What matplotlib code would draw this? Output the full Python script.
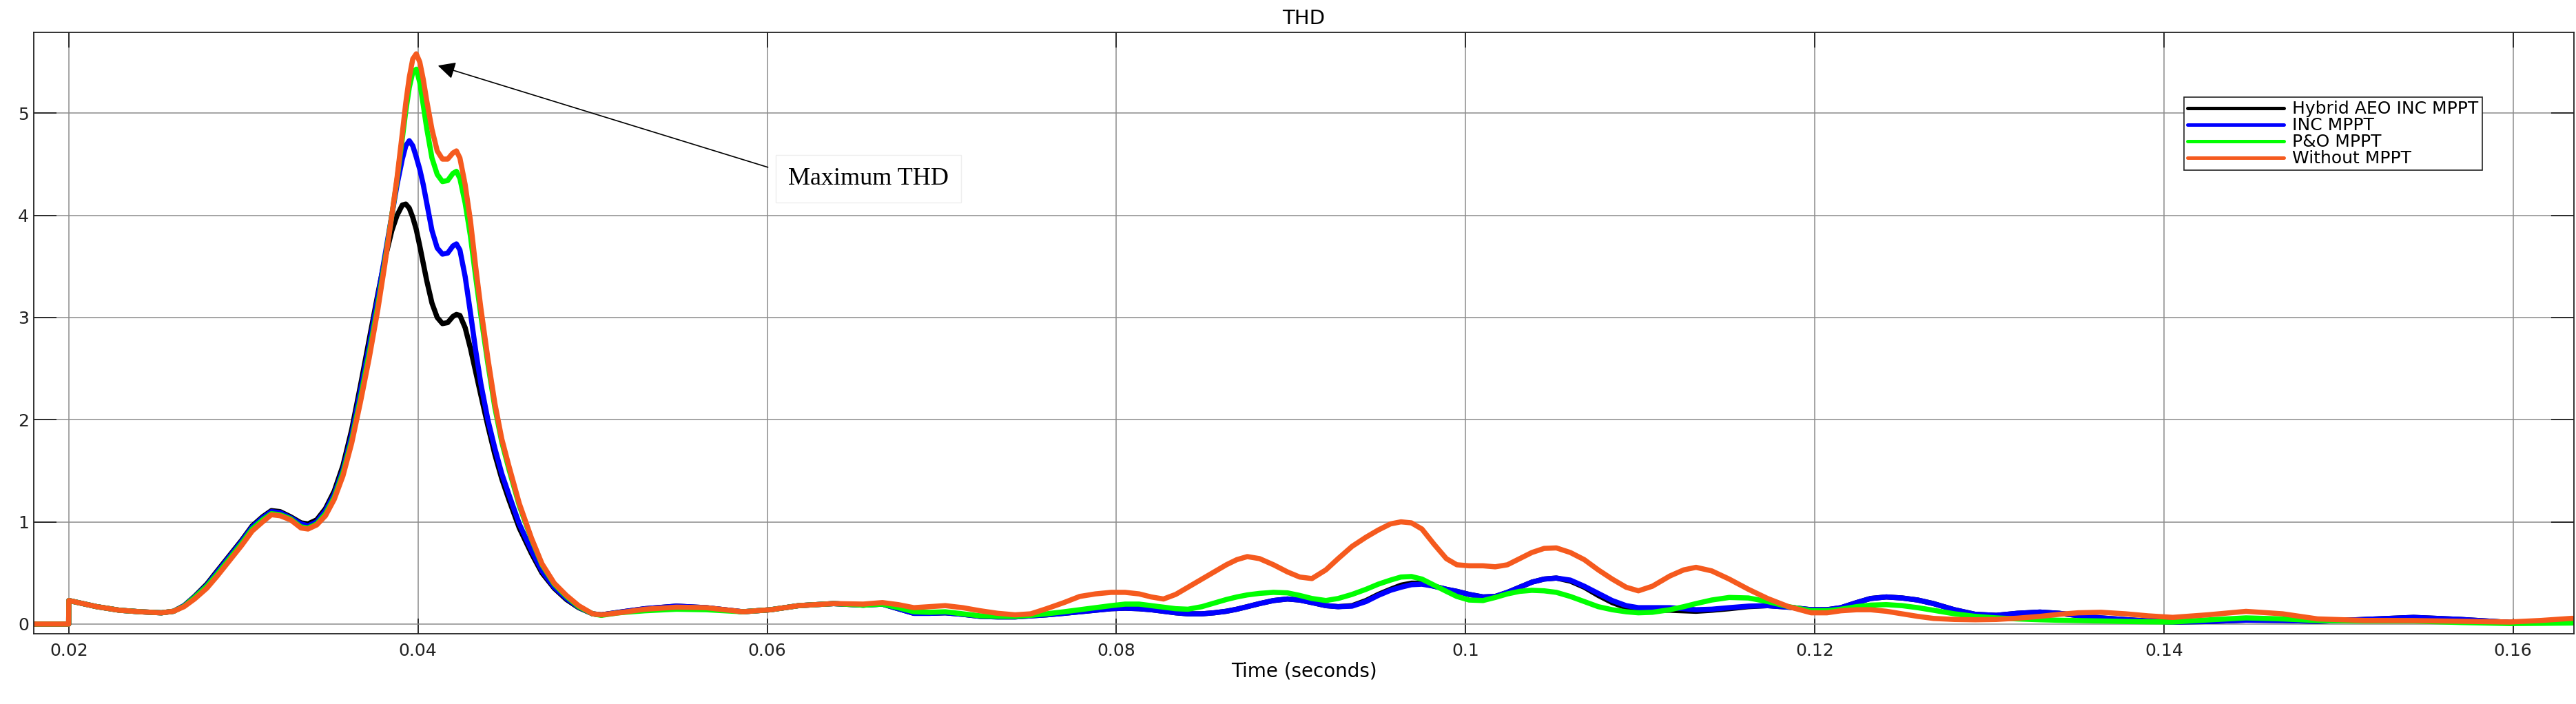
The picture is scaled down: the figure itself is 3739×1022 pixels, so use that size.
import numpy as np
import matplotlib
matplotlib.use('Agg')
import matplotlib.pyplot as plt

# time axis (s) shared by all four THD traces
t = [0.0180, 0.01999, 0.0200, 0.0208, 0.0216, 0.0229, 0.0241, 0.0253, 0.0260, 0.0266,
     0.0272, 0.0279, 0.0285, 0.0292, 0.0299, 0.0305, 0.0311, 0.0316, 0.0321, 0.0327,
     0.0333, 0.0337, 0.0342, 0.0347, 0.0352, 0.0357, 0.0362, 0.0367, 0.0372, 0.0377,
     0.0381, 0.0385, 0.0388, 0.0391, 0.0393, 0.0395, 0.0397, 0.0399, 0.0401, 0.0403,
     0.0405, 0.0408, 0.0411, 0.0414, 0.0417, 0.0420, 0.0422, 0.0424, 0.0427, 0.0430,
     0.0433, 0.0436, 0.0440, 0.0444, 0.0448, 0.0452, 0.0458, 0.0465, 0.0471, 0.0478,
     0.0485, 0.0492, 0.0500, 0.0505, 0.0515, 0.0530, 0.0548, 0.0565, 0.0586, 0.0602,
     0.0618, 0.0638, 0.0655, 0.0666, 0.0675, 0.0684, 0.0693, 0.0702, 0.0712, 0.0722,
     0.0732, 0.0742, 0.0751, 0.0760, 0.0770, 0.0779, 0.0788, 0.0797, 0.0805, 0.0813,
     0.0820, 0.0827, 0.0834, 0.0841, 0.0849, 0.0856, 0.0863, 0.0869, 0.0875, 0.0882,
     0.0890, 0.0898, 0.0905, 0.0912, 0.0920, 0.0927, 0.0935, 0.0943, 0.0950, 0.0957,
     0.0963, 0.0969, 0.0975, 0.0982, 0.0989, 0.0995, 0.1002, 0.1010, 0.1017, 0.1024,
     0.1031, 0.1038, 0.1045, 0.1052, 0.1060, 0.1068, 0.1076, 0.1084, 0.1092, 0.1099,
     0.1107, 0.1117, 0.1125, 0.1132, 0.1141, 0.1151, 0.1162, 0.1173, 0.1185, 0.1198,
     0.1207, 0.1215, 0.1224, 0.1232, 0.1241, 0.1250, 0.1259, 0.1268, 0.1280, 0.1292,
     0.1304, 0.1316, 0.1329, 0.1340, 0.1351, 0.1364, 0.1378, 0.1391, 0.1405, 0.1425,
     0.1447, 0.1468, 0.1488, 0.1515, 0.1543, 0.1570, 0.1598, 0.1616, 0.1634]

thd_hybrid = [0, 0, 0.23, 0.20, 0.17, 0.135, 0.12, 0.11, 0.125, 0.18,
              0.27, 0.39, 0.52, 0.67, 0.82, 0.96, 1.05, 1.11, 1.10, 1.05,
              0.99, 0.98, 1.02, 1.13, 1.30, 1.55, 1.90, 2.33, 2.78, 3.23,
              3.57, 3.85, 4.00, 4.10, 4.11, 4.07, 3.98, 3.86, 3.70, 3.53,
              3.36, 3.14, 3.00, 2.94, 2.95, 3.01, 3.03, 3.02, 2.90, 2.70,
              2.47, 2.24, 1.94, 1.66, 1.42, 1.22, 0.94, 0.69, 0.50, 0.35,
              0.24, 0.16, 0.10, 0.09, 0.115, 0.15, 0.175, 0.16, 0.12, 0.14,
              0.18, 0.20, 0.185, 0.195, 0.15, 0.105, 0.105, 0.11, 0.095, 0.075,
              0.07, 0.07, 0.08, 0.09, 0.105, 0.12, 0.135, 0.15, 0.155, 0.15,
              0.14, 0.125, 0.11, 0.10, 0.10, 0.11, 0.125, 0.145, 0.17, 0.20,
              0.23, 0.245, 0.235, 0.21, 0.18, 0.17, 0.18, 0.23, 0.29, 0.34,
              0.38, 0.40, 0.40, 0.37, 0.34, 0.32, 0.29, 0.265, 0.27, 0.31,
              0.36, 0.41, 0.44, 0.45, 0.42, 0.36, 0.28, 0.21, 0.16, 0.14,
              0.135, 0.135, 0.13, 0.125, 0.135, 0.15, 0.17, 0.18, 0.165, 0.14,
              0.14, 0.16, 0.21, 0.25, 0.265, 0.255, 0.235, 0.20, 0.14, 0.095,
              0.085, 0.105, 0.117, 0.105, 0.083, 0.06, 0.043, 0.03, 0.02, 0.025,
              0.038, 0.035, 0.027, 0.045, 0.065, 0.045, 0.016, 0.015, 0.016]

thd_inc = [0, 0, 0.23, 0.20, 0.17, 0.135, 0.12, 0.11, 0.125, 0.18,
           0.265, 0.38, 0.51, 0.66, 0.81, 0.95, 1.04, 1.10, 1.09, 1.04,
           0.98, 0.96, 1.00, 1.11, 1.27, 1.51, 1.85, 2.28, 2.72, 3.20,
           3.60, 4.00, 4.30, 4.55, 4.68, 4.73, 4.68, 4.57, 4.45, 4.30,
           4.12, 3.85, 3.68, 3.62, 3.63, 3.70, 3.72, 3.66, 3.40, 3.05,
           2.68, 2.35, 2.00, 1.72, 1.47, 1.27, 0.98, 0.72, 0.52, 0.36,
           0.25, 0.165, 0.10, 0.09, 0.115, 0.15, 0.175, 0.16, 0.12, 0.14,
           0.18, 0.20, 0.185, 0.195, 0.15, 0.105, 0.105, 0.11, 0.095, 0.075,
           0.07, 0.07, 0.08, 0.09, 0.105, 0.12, 0.135, 0.15, 0.155, 0.15,
           0.14, 0.125, 0.11, 0.10, 0.10, 0.11, 0.125, 0.145, 0.17, 0.20,
           0.23, 0.245, 0.235, 0.21, 0.18, 0.17, 0.175, 0.22, 0.28, 0.33,
           0.36, 0.385, 0.39, 0.37, 0.34, 0.32, 0.29, 0.265, 0.27, 0.31,
           0.36, 0.41, 0.44, 0.45, 0.43, 0.37, 0.30, 0.23, 0.18, 0.16,
           0.16, 0.16, 0.15, 0.14, 0.145, 0.16, 0.175, 0.18, 0.165, 0.14,
           0.14, 0.16, 0.21, 0.25, 0.265, 0.255, 0.235, 0.20, 0.14, 0.095,
           0.085, 0.105, 0.117, 0.105, 0.083, 0.06, 0.043, 0.03, 0.02, 0.025,
           0.038, 0.035, 0.027, 0.045, 0.065, 0.045, 0.016, 0.015, 0.016]

thd_po = [0, 0, 0.23, 0.20, 0.17, 0.135, 0.12, 0.11, 0.125, 0.175,
          0.26, 0.37, 0.49, 0.64, 0.79, 0.93, 1.02, 1.08, 1.07, 1.03,
          0.95, 0.94, 0.98, 1.08, 1.24, 1.48, 1.80, 2.21, 2.65, 3.12,
          3.55, 4.00, 4.35, 4.75, 5.02, 5.25, 5.40, 5.43, 5.30, 5.08,
          4.85, 4.56, 4.40, 4.33, 4.34, 4.41, 4.43, 4.36, 4.12, 3.80,
          3.40, 3.02, 2.55, 2.12, 1.78, 1.52, 1.16, 0.83, 0.58, 0.39,
          0.27, 0.17, 0.10, 0.085, 0.11, 0.13, 0.145, 0.14, 0.12, 0.14,
          0.18, 0.20, 0.185, 0.195, 0.16, 0.12, 0.115, 0.12, 0.10, 0.08,
          0.075, 0.075, 0.085, 0.10, 0.12, 0.14, 0.16, 0.18, 0.195, 0.195,
          0.18, 0.165, 0.15, 0.145, 0.17, 0.205, 0.24, 0.265, 0.285, 0.30,
          0.31, 0.305, 0.28, 0.25, 0.23, 0.25, 0.29, 0.34, 0.39, 0.43,
          0.46, 0.465, 0.44, 0.38, 0.32, 0.27, 0.235, 0.23, 0.26, 0.295,
          0.32, 0.33, 0.325, 0.31, 0.27, 0.22, 0.17, 0.14, 0.12, 0.11,
          0.115, 0.14, 0.17, 0.20, 0.235, 0.26, 0.255, 0.22, 0.17, 0.13,
          0.13, 0.145, 0.17, 0.185, 0.19, 0.18, 0.16, 0.135, 0.10, 0.075,
          0.06, 0.05, 0.042, 0.037, 0.034, 0.03, 0.025, 0.022, 0.02, 0.04,
          0.06, 0.05, 0.034, 0.03, 0.03, 0.015, 0.005, 0.007, 0.01]

thd_none = [0, 0, 0.23, 0.20, 0.17, 0.135, 0.12, 0.11, 0.125, 0.17,
            0.245, 0.35, 0.47, 0.62, 0.77, 0.91, 1.00, 1.07, 1.06, 1.02,
            0.94, 0.93, 0.97, 1.06, 1.22, 1.45, 1.77, 2.17, 2.60, 3.08,
            3.52, 4.00, 4.37, 4.80, 5.10, 5.35, 5.53, 5.58, 5.50, 5.33,
            5.12, 4.84, 4.63, 4.55, 4.55, 4.61, 4.63, 4.56, 4.30, 3.95,
            3.50, 3.09, 2.60, 2.16, 1.81, 1.55, 1.18, 0.84, 0.59, 0.40,
            0.28, 0.18, 0.10, 0.09, 0.11, 0.145, 0.165, 0.16, 0.12, 0.14,
            0.18, 0.20, 0.195, 0.21, 0.19, 0.16, 0.17, 0.18, 0.16, 0.13,
            0.105, 0.09, 0.10, 0.15, 0.21, 0.27, 0.295, 0.31, 0.31, 0.295,
            0.265, 0.245, 0.29, 0.36, 0.44, 0.51, 0.58, 0.63, 0.66, 0.64,
            0.58, 0.51, 0.46, 0.445, 0.53, 0.64, 0.76, 0.85, 0.92, 0.98,
            1.00, 0.99, 0.93, 0.78, 0.64, 0.58, 0.57, 0.57, 0.56, 0.58,
            0.64, 0.70, 0.74, 0.745, 0.70, 0.63, 0.53, 0.44, 0.36, 0.325,
            0.37, 0.47, 0.53, 0.555, 0.52, 0.44, 0.34, 0.25, 0.17, 0.11,
            0.11, 0.13, 0.14, 0.14, 0.125, 0.10, 0.075, 0.055, 0.045, 0.042,
            0.045, 0.057, 0.075, 0.095, 0.11, 0.115, 0.10, 0.08, 0.065, 0.09,
            0.124, 0.10, 0.05, 0.035, 0.034, 0.027, 0.02, 0.035, 0.056]

labels = ['Hybrid AEO INC MPPT', 'INC MPPT', 'P&O MPPT', 'Without MPPT']
colors = ['#000000', '#0000ff', '#00ff00', '#f55a1e']
x_ticks = [0.02, 0.04, 0.06, 0.08, 0.1, 0.12, 0.14, 0.16]
x_tick_labels = ['0.02', '0.04', '0.06', '0.08', '0.1', '0.12', '0.14', '0.16']
y_ticks = [0, 1, 2, 3, 4, 5]

plt.rcParams['font.family'] = ['DejaVu Sans']

fig = plt.figure(figsize=(37.39, 10.22), dpi=100)
ax = fig.add_axes([0.0131, 0.0998, 0.9862, 0.8542])

for y, lab, c in zip([thd_hybrid, thd_inc, thd_po, thd_none], labels, colors):
    ax.plot(t, y, color=c, lw=5.4, label=lab, solid_joinstyle='round',
            solid_capstyle='round')

ax.set_xlim(0.01799, 0.1635)
ax.set_ylim(-0.095, 5.79)
ax.set_xticks(x_ticks)
ax.set_xticklabels(x_tick_labels)
ax.set_yticks(y_ticks)
ax.grid(True, color='#8c8c8c', lw=1.1)
ax.tick_params(axis='both', direction='in', top=True, right=True, labelsize=18,
               width=1.3, colors='#222222')
ax.tick_params(axis='x', length=16, pad=9)
ax.tick_params(axis='y', length=24, pad=5)
for s in ax.spines.values():
    s.set_linewidth(1.3)
    s.set_color('#222222')

ax.set_title('THD', fontsize=21, pad=9)
ax.set_xlabel('Time (seconds)', fontsize=20, labelpad=3)

leg = ax.legend(loc='upper right', bbox_to_anchor=(0.9637, 0.892), borderaxespad=0,
                fontsize=18, frameon=True, fancybox=False, framealpha=1,
                edgecolor='#222222', handlelength=5.6, handletextpad=0.5,
                labelspacing=0.0, borderpad=0.2)
leg.get_frame().set_linewidth(1.2)
for line in leg.get_lines():
    line.set_linewidth(3.6)

# annotation arrow pointing at the max THD
ax.annotate('', xy=(0.04114, 5.465), xytext=(0.06004, 4.47),
            arrowprops=dict(arrowstyle='-|>', color='black', lw=1.2,
                            mutation_scale=38, shrinkA=0, shrinkB=0))
ax.text(0.0612, 4.36, 'Maximum THD', family='Liberation Serif', fontsize=26,
        ha='left', va='center',
        bbox=dict(boxstyle='square,pad=0.5', facecolor='white', edgecolor='#eeeeee', lw=1))

fig.savefig('out.png', dpi=100)
